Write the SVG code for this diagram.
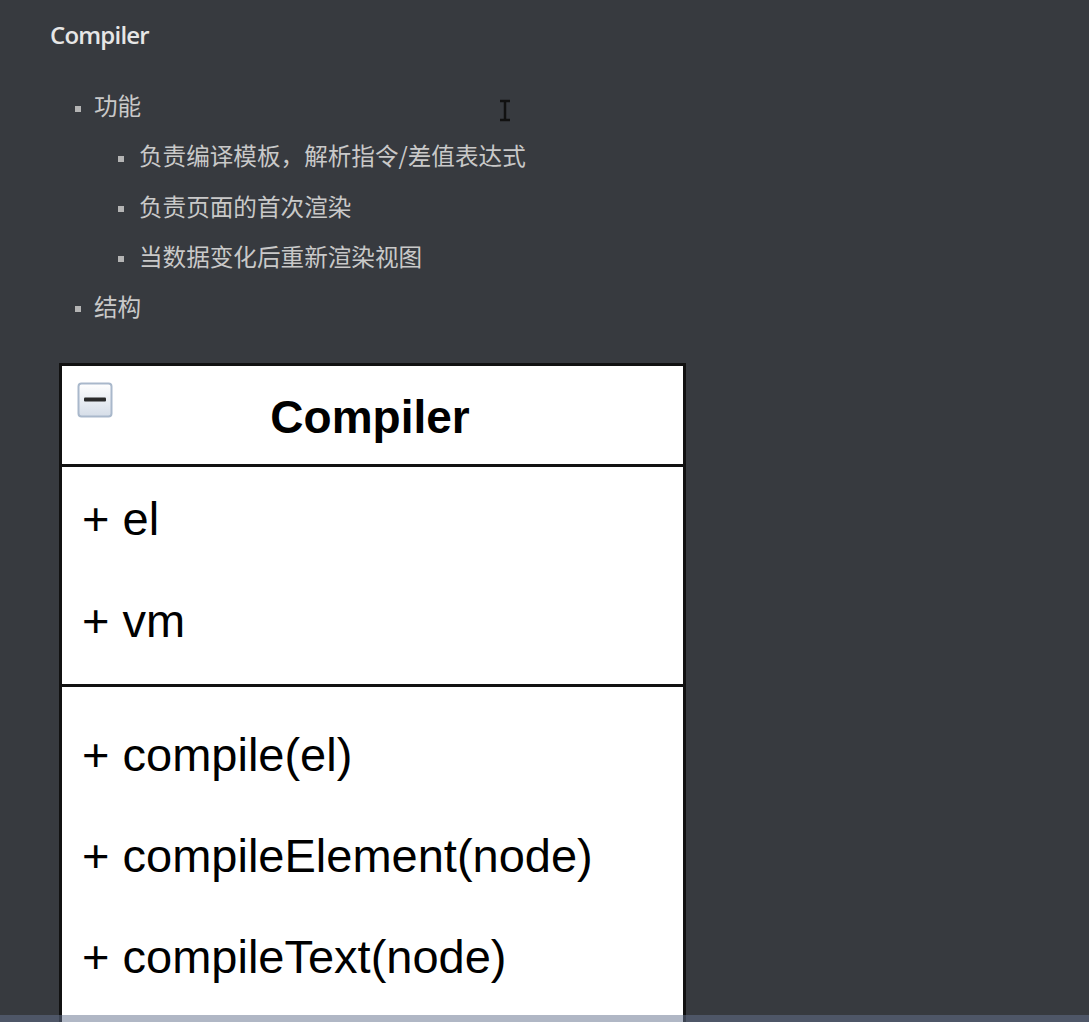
<svg xmlns="http://www.w3.org/2000/svg" width="1089" height="1022" viewBox="0 0 1089 1022">
  <defs>
    <linearGradient id="iconGrad" x1="0" y1="0" x2="0" y2="1">
      <stop offset="0" stop-color="#ffffff"/>
      <stop offset="1" stop-color="#d5dde8"/>
    </linearGradient>
  </defs>
  <style>
    .title { font-family: "Open Sans", "Noto Sans", sans-serif; font-weight: 600; font-size: 24px; fill: #e6e6e6; letter-spacing: -0.8px; }
    .cjk { font-family: "Noto Sans CJK SC", sans-serif; font-size: 23.6px; fill: #c9c9c9; }
    .bullet { fill: #b4b4b4; }
    .box { fill: #ffffff; stroke: #111111; stroke-width: 3; }
    .div { stroke: #111111; stroke-width: 3; }
    .cls { font-family: "Liberation Sans", Arial, sans-serif; font-weight: bold; font-size: 46px; fill: #000000; }
    .mem { font-family: "Liberation Sans", Arial, sans-serif; font-size: 47px; fill: #000000; }
  </style>
  <rect x="0" y="0" width="1089" height="1022" fill="#373a3f"/>

  <g id="heading">
    <text class="title" x="50" y="44">Compiler</text>
  </g>

  <g id="outline">
    <rect class="bullet" x="75" y="106" width="6" height="6"/>
    <text class="cjk" x="94" y="115">功能</text>
    <rect class="bullet" x="118" y="156" width="6" height="6"/>
    <text class="cjk" x="139" y="165">负责编译模板，解析指令/差值表达式</text>
    <rect class="bullet" x="118" y="206" width="6" height="6"/>
    <text class="cjk" x="139" y="216">负责页面的首次渲染</text>
    <rect class="bullet" x="118" y="256" width="6" height="6"/>
    <text class="cjk" x="139" y="266">当数据变化后重新渲染视图</text>
    <rect class="bullet" x="75" y="306" width="6" height="6"/>
    <text class="cjk" x="94" y="316">结构</text>
  </g>

  <g id="cursor" stroke="#111111" stroke-width="2.5" fill="none">
    <line x1="505" y1="101" x2="505" y2="120"/>
    <line x1="500" y1="101" x2="510" y2="101"/>
    <line x1="500" y1="120" x2="510" y2="120"/>
  </g>

  <g id="compiler-class">
    <rect class="box" x="60.5" y="364.5" width="624" height="700"/>
    <line class="div" x1="60" y1="465.5" x2="685" y2="465.5"/>
    <line class="div" x1="60" y1="685.5" x2="685" y2="685.5"/>
    <rect x="78.5" y="383.5" width="33" height="33" rx="3" fill="url(#iconGrad)" stroke="#a9b8cb" stroke-width="2"/>
    <rect x="84" y="397.5" width="22" height="4" rx="1" fill="#2b2b2b"/>
    <text class="cls" x="370" y="433" text-anchor="middle">Compiler</text>
    <text class="mem" x="82" y="535">+ el</text>
    <text class="mem" x="82" y="637">+ vm</text>
    <text class="mem" x="82" y="771">+ compile(el)</text>
    <text class="mem" x="82" y="872">+ compileElement(node)</text>
    <text class="mem" x="82" y="973">+ compileText(node)</text>
  </g>

  <g id="connectors"></g>

  <rect x="0" y="1015" width="1089" height="7" fill="#64718d" fill-opacity="0.51"/>
</svg>
